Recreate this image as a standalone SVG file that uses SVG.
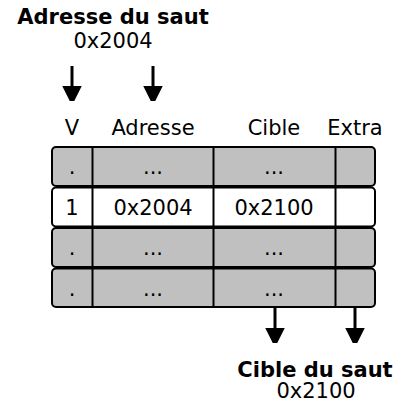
<svg xmlns="http://www.w3.org/2000/svg" width="406" height="403" viewBox="0 0 406 403">
<style>
text{font-family:"DejaVu Sans",sans-serif;font-size:21px;fill:#000;text-anchor:middle}
.b{font-weight:bold}
.row{stroke:#000;stroke-width:2}
.g{fill:#c0c0c0}
.w{fill:#fff}
.div{stroke:#000;stroke-width:2}
.arr{stroke:#000;stroke-width:3}
</style>
<defs>
<marker id="ah" markerWidth="5" markerHeight="6.5" refX="0" refY="3.25" orient="auto" markerUnits="strokeWidth"><path d="M0,0 L6.5,3.25 L0,6.5 z" fill="#000"/></marker>
</defs>
<rect width="406" height="403" fill="#fff"/>
<g id="titre-adresse">
<text class="b" x="113" y="24">Adresse du saut</text>
<text x="113" y="48">0x2004</text>
</g>
<g id="entetes">
<text x="72" y="135">V</text>
<text x="153" y="135">Adresse</text>
<text x="274" y="135">Cible</text>
<text x="355" y="135">Extra</text>
</g>
<g id="ligne1">
<rect class="row g" x="52" y="147" width="323" height="39" rx="4"/>
<line class="div" x1="92.5" y1="147" x2="92.5" y2="186"/>
<line class="div" x1="213.5" y1="147" x2="213.5" y2="186"/>
<line class="div" x1="335.5" y1="147" x2="335.5" y2="186"/>
<text x="72" y="174">.</text><text x="153" y="174">...</text><text x="274" y="174">...</text>
</g>
<g id="ligne2">
<rect class="row w" x="52" y="187.5" width="323" height="39" rx="4"/>
<line class="div" x1="92.5" y1="187.5" x2="92.5" y2="226.5"/>
<line class="div" x1="213.5" y1="187.5" x2="213.5" y2="226.5"/>
<line class="div" x1="335.5" y1="187.5" x2="335.5" y2="226.5"/>
<text x="72" y="214.5">1</text><text x="153" y="214.5">0x2004</text><text x="274" y="214.5">0x2100</text>
</g>
<g id="ligne3">
<rect class="row g" x="52" y="228" width="323" height="39" rx="4"/>
<line class="div" x1="92.5" y1="228" x2="92.5" y2="267"/>
<line class="div" x1="213.5" y1="228" x2="213.5" y2="267"/>
<line class="div" x1="335.5" y1="228" x2="335.5" y2="267"/>
<text x="72" y="255">.</text><text x="153" y="255">...</text><text x="274" y="255">...</text>
</g>
<g id="ligne4">
<rect class="row g" x="52" y="268.5" width="323" height="38.5" rx="4"/>
<line class="div" x1="92.5" y1="268.5" x2="92.5" y2="307"/>
<line class="div" x1="213.5" y1="268.5" x2="213.5" y2="307"/>
<line class="div" x1="335.5" y1="268.5" x2="335.5" y2="307"/>
<text x="72" y="295.5">.</text><text x="153" y="295.5">...</text><text x="274" y="295.5">...</text>
</g>
<g id="titre-cible">
<text class="b" x="315" y="377">Cible du saut</text>
<text x="316" y="398">0x2100</text>
</g>
<g id="connecteurs">
<line class="arr" x1="72" y1="66" x2="72" y2="86" marker-end="url(#ah)"/>
<line class="arr" x1="153" y1="66" x2="153" y2="86" marker-end="url(#ah)"/>
<line class="arr" x1="275" y1="307" x2="275" y2="328" marker-end="url(#ah)"/>
<line class="arr" x1="355" y1="307" x2="355" y2="328" marker-end="url(#ah)"/>
</g>
</svg>
